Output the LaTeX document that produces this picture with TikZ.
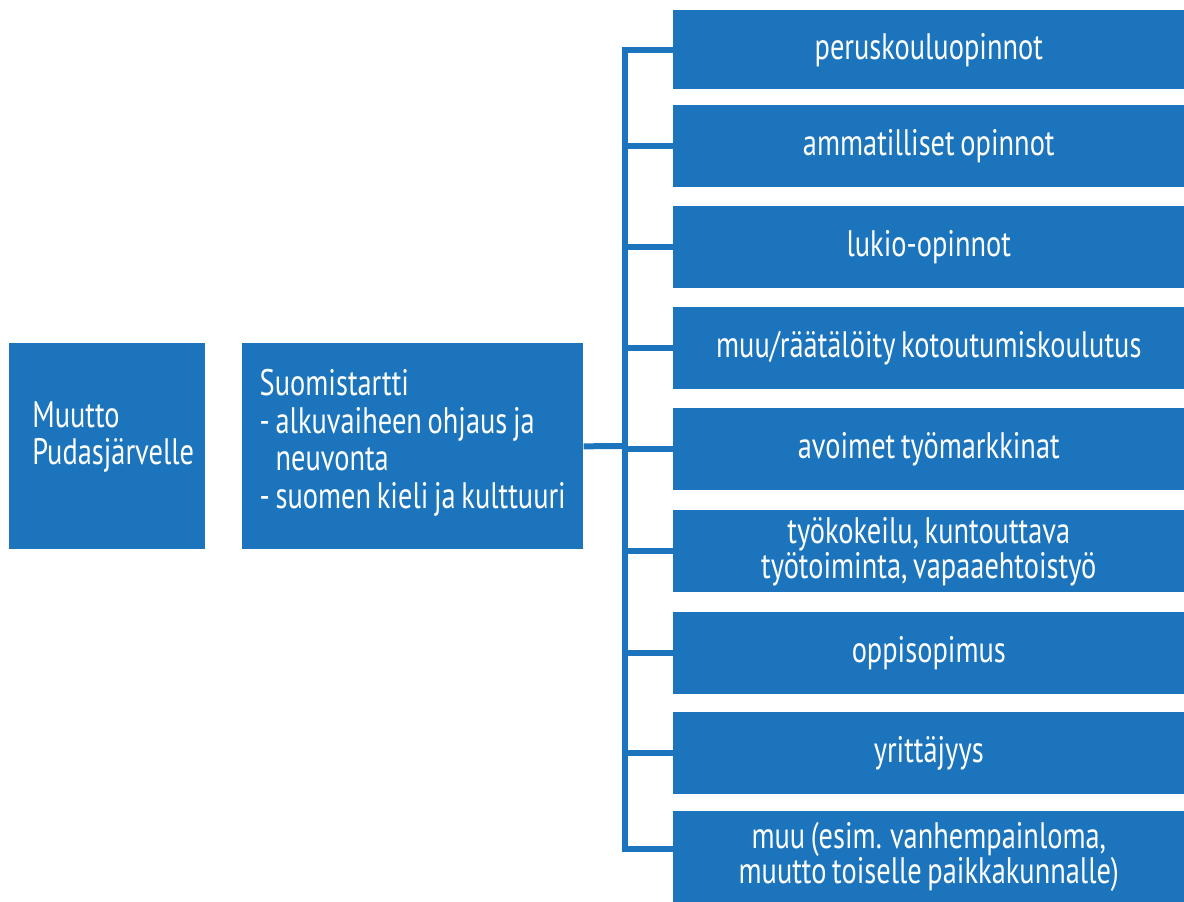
\documentclass[tikz,border=0pt]{standalone}
\usepackage{fontspec}
\setmainfont{PT Sans}[FakeStretch=0.77,WordSpace=0.75]
\definecolor{boxblue}{RGB}{28,117,188}

\begin{document}
\begin{tikzpicture}[x=0.02cm,y=-0.02cm,
        box/.style={fill=boxblue,text=white,anchor=north west,inner ysep=0pt},
        step box/.style={box,minimum height=4.12cm,align=left,
            font=\fontsize{21}{21.4}\selectfont},
        path box/.style={box,minimum width=10.22cm,minimum height=1.64cm,
            align=center,font=\fontsize{21}{20}\selectfont},
        link/.style={draw=boxblue,line width=0.12cm}]
    \useasboundingbox (0,0) rectangle (1184,902);

    \node[step box,inner xsep=0.46cm,text width=3cm,text depth=1.28cm] (move) at (9,343)
        {Muutto\\Pudasjärvelle};
    \node[step box,minimum width=6.82cm,text depth=0.3cm] (start) at (242,343)
        {Suomistartti\\- alkuvaiheen ohjaus ja\\\phantom{- }neuvonta\\- suomen kieli ja kulttuuri};

    \node[path box,minimum height=1.58cm] (p1) at (673,10) {peruskouluopinnot};
    \node[path box] (p2) at (673,105) {ammatilliset opinnot};
    \node[path box] (p3) at (673,206) {lukio-opinnot};
    \node[path box] (p4) at (673,307) {muu/räätälöity kotoutumiskoulutus};
    \node[path box] (p5) at (673,408) {avoimet työmarkkinat};
    \node[path box] (p6) at (673,510) {työkokeilu, kuntouttava\\työtoiminta, vapaaehtoistyö};
    \node[path box] (p7) at (673,612) {oppisopimus};
    \node[path box] (p8) at (673,712) {yrittäjyys};
    \node[path box,minimum height=1.82cm] (p9) at (673,811)
        {muu (esim. vanhempainloma,\\muutto toiselle paikkakunnalle)};

    \coordinate (hub) at (625,446);
    \coordinate (p9in) at ([yshift=0.16cm]p9.west);

    \draw[link] (start.east) -- (hub);
    \draw[link] (p1.west) -- (hub |- p1.west) -- (hub |- p9in) -- (p9in);
    \foreach \n in {p2,p3,p4,p5,p6,p7,p8}
        \draw[link] (hub |- \n.west) -- (\n.west);
\end{tikzpicture}
\end{document}
